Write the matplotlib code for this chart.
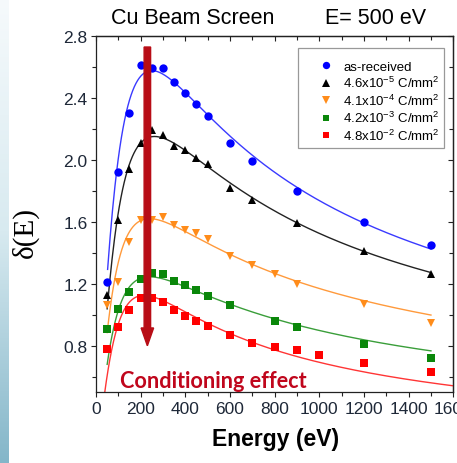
import numpy as np
import matplotlib
matplotlib.use("Agg")
import matplotlib.pyplot as plt
from matplotlib.ticker import MultipleLocator
from matplotlib.patches import Rectangle
from matplotlib.colors import LinearSegmentedColormap

plt.rcParams['font.family'] = ['Liberation Sans', 'DejaVu Sans']
plt.rcParams['mathtext.default'] = 'regular'

# ---------------- data ----------------
energy_blue = [50, 100, 150, 200, 250, 300, 350, 400, 450, 500, 600, 700, 900, 1200, 1500]
sey_blue = [1.21, 1.92, 2.30, 2.61, 2.59, 2.59, 2.50, 2.43, 2.36, 2.28, 2.11, 1.99, 1.80, 1.60, 1.45]

energy_black = [50, 100, 150, 200, 250, 300, 350, 400, 450, 500, 600, 700, 900, 1200, 1500]
sey_black = [1.13, 1.61, 1.94, 2.11, 2.19, 2.16, 2.09, 2.06, 2.01, 1.97, 1.82, 1.74, 1.59, 1.41, 1.26]

energy_orange = [50, 100, 150, 200, 250, 300, 350, 400, 450, 500, 600, 700, 800, 900, 1200, 1500]
sey_orange = [1.06, 1.21, 1.47, 1.61, 1.61, 1.63, 1.58, 1.55, 1.53, 1.49, 1.38, 1.32, 1.26, 1.20, 1.07, 0.95]

energy_green = [50, 100, 150, 200, 250, 300, 350, 400, 450, 500, 600, 800, 900, 1200, 1500]
sey_green = [0.91, 1.04, 1.15, 1.23, 1.27, 1.26, 1.22, 1.19, 1.16, 1.12, 1.06, 0.96, 0.92, 0.81, 0.72]

energy_red = [50, 100, 150, 200, 250, 300, 350, 400, 450, 500, 600, 700, 800, 900, 1000, 1200, 1500]
sey_red = [0.78, 0.92, 1.03, 1.11, 1.11, 1.08, 1.03, 0.99, 0.96, 0.93, 0.87, 0.82, 0.79, 0.77, 0.74, 0.69, 0.63]

labels = ['as-received', '4.6x10$^{-5}$ C/mm$^2$', '4.1x10$^{-4}$ C/mm$^2$',
          '4.2x10$^{-3}$ C/mm$^2$', '4.8x10$^{-2}$ C/mm$^2$']

# fitted curve parameters (delta_max, E_max, s, E_start, E_end)
fit_dmax = [2.575, 2.15, 1.62, 1.245, 1.125]
fit_emax = [250, 262, 240, 240, 215]
fit_s = [1.56, 1.52, 1.45, 1.45, 1.58]
fit_e0 = [52, 50, 50, 50, 30]
fit_e1 = [1500, 1500, 1500, 1500, 1650]

marker_colors = ['#0000ff', '#000000', '#ff8c1a', '#0a870a', '#ff0000']
line_colors = ['#3a3aff', '#222222', '#ff9a3c', '#3a9e3a', '#ff3535']
markers = ['o', '^', 'v', 's', 's']
msizes = [6.0, 6.2, 6.2, 5.4, 5.4]

series = [(energy_blue, sey_blue), (energy_black, sey_black), (energy_orange, sey_orange),
          (energy_green, sey_green), (energy_red, sey_red)]

W, H = 457, 464
fig = plt.figure(figsize=(W / 100, H / 100), dpi=100)

# left decorative strip
strip = fig.add_axes([0, 0, 8.5 / W, 1])
grad = np.linspace(0, 1, 256).reshape(-1, 1)
cmap = LinearSegmentedColormap.from_list('strip', ['#f6fafc', '#d8eaf0', '#84b6c9'])
strip.imshow(grad, aspect='auto', cmap=cmap, extent=[0, 1, 0, 1], origin='upper')
strip.axis('off')

ax = fig.add_axes([96 / W, 1 - 393.3 / H, (453.3 - 96) / W, (393.3 - 36.7) / H])
ax.set_xlim(0, 1600)
ax.set_ylim(0.5, 2.8)


def furman(E, dmax, emax, s):
    x = E / emax
    return dmax * s * x / (s - 1 + x ** s)


for i, (ex, ey) in enumerate(series):
    Ef = np.linspace(fit_e0[i], fit_e1[i], 400)
    ax.plot(Ef, furman(Ef, fit_dmax[i], fit_emax[i], fit_s[i]), color=line_colors[i], lw=1.0, zorder=2)
for i, (ex, ey) in enumerate(series):
    ax.plot(ex, ey, linestyle='none', marker=markers[i], color=marker_colors[i],
            markersize=msizes[i], markeredgewidth=0, label=labels[i], zorder=3)

# arrow
ax.arrow(230, 2.727, 0, 0.80 - 2.727, width=29, head_width=56, head_length=0.115,
         length_includes_head=True, color='#b80d16', zorder=4)

ax.text(107, 0.575, 'Conditioning effect', color='#c0061c', fontsize=15.6, fontweight='bold',
        family=['Lato', 'DejaVu Sans'], ha='left', va='center', zorder=5)

tick_color = '#1e2838'
ax.xaxis.set_major_locator(MultipleLocator(200))
ax.xaxis.set_minor_locator(MultipleLocator(100))
ax.yaxis.set_major_locator(MultipleLocator(0.4))
ax.yaxis.set_minor_locator(MultipleLocator(0.2))
ax.yaxis.set_major_formatter(matplotlib.ticker.FormatStrFormatter('%.1f'))
ax.tick_params(which='both', direction='out', width=0.8, colors='#222222', labelcolor=tick_color,
               labelsize=12.5)
ax.tick_params(which='major', length=3.6)
ax.tick_params(which='minor', length=2.6)
ax.tick_params(axis='x', pad=3)
ax.tick_params(axis='y', pad=2.5)

secx = ax.secondary_xaxis('top')
secx.xaxis.set_major_locator(MultipleLocator(200))
secx.xaxis.set_minor_locator(MultipleLocator(100))
secx.tick_params(which='both', direction='in', width=0.8, colors='#222222', labeltop=False)
secx.tick_params(which='major', length=3.6)
secx.tick_params(which='minor', length=2.6)
secy = ax.secondary_yaxis('right')
secy.yaxis.set_major_locator(MultipleLocator(0.4))
secy.yaxis.set_minor_locator(MultipleLocator(0.2))
secy.tick_params(which='both', direction='in', width=0.8, colors='#222222', labelright=False)
secy.tick_params(which='major', length=3.6)
secy.tick_params(which='minor', length=2.6)
for sp in list(ax.spines.values()) + [secx.spines['top'], secy.spines['right']]:
    sp.set_linewidth(0.9)
    sp.set_color('#222222')

# legend frame drawn separately, legend entries without frame
ax.add_patch(Rectangle((0.565, 0.685), 0.409, 0.2805, transform=ax.transAxes,
                       facecolor='white', edgecolor='#999999', linewidth=0.9, zorder=5))
leg = ax.legend(loc='upper left', bbox_to_anchor=(0.625, 0.9305), borderaxespad=0,
                borderpad=0, fontsize=9.5, frameon=False,
                handlelength=1.0, handletextpad=0.8, labelspacing=0.18,
                numpoints=1, markerscale=0.88)
leg.set_zorder(6)

fig.text(193 / W, 1 - 19 / H, 'Cu Beam Screen', ha='center', va='center', fontsize=15.5)
fig.text(376 / W, 1 - 19 / H, 'E= 500 eV', ha='center', va='center', fontsize=15.5)
fig.text(25 / W, 1 - 233 / H, 'δ(E)', ha='center', va='center', fontsize=21, rotation=90,
         family=['Liberation Serif', 'DejaVu Serif'])
fig.text(276 / W, 1 - 440 / H, 'Energy (eV)', ha='center', va='center', fontsize=16.5,
         fontweight='bold')

fig.savefig('out.png', dpi=100)
